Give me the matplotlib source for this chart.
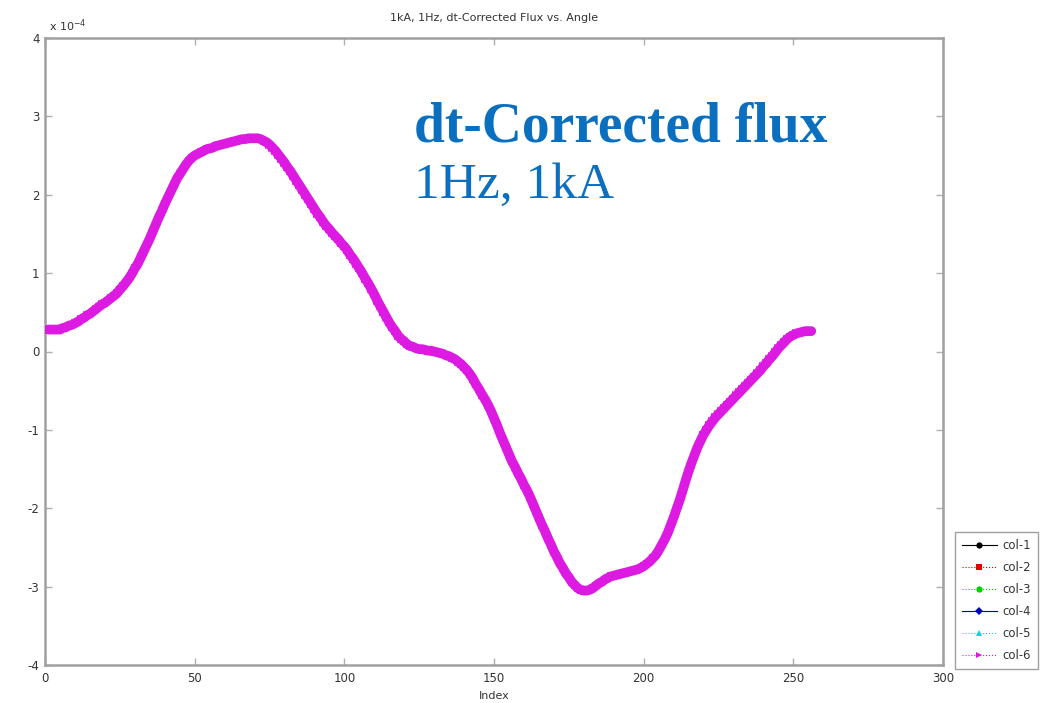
import numpy as np
import matplotlib
matplotlib.use("Agg")
import matplotlib.pyplot as plt
from matplotlib.ticker import ScalarFormatter

plt.rcParams["axes.unicode_minus"] = False

# dt-corrected flux (units of 1e-4), sample index 1..256
flux = [
    0.28, 0.28, 0.28, 0.28, 0.28, 0.30, 0.31, 0.33, 0.34, 0.36, 0.38, 0.41, 0.43, 0.46, 0.48, 0.51,
    0.54, 0.57, 0.60, 0.62, 0.65, 0.68, 0.71, 0.74, 0.79, 0.83, 0.88, 0.93, 0.99, 1.06, 1.12, 1.20,
    1.28, 1.36, 1.44, 1.53, 1.62, 1.71, 1.79, 1.88, 1.96, 2.04, 2.12, 2.20, 2.26, 2.32, 2.38, 2.43,
    2.47, 2.50, 2.52, 2.54, 2.56, 2.58, 2.59, 2.60, 2.62, 2.63, 2.64, 2.65, 2.66, 2.67, 2.68, 2.69,
    2.70, 2.71, 2.71, 2.72, 2.72, 2.72, 2.72, 2.71, 2.69, 2.67, 2.64, 2.60, 2.56, 2.51, 2.46, 2.41,
    2.35, 2.30, 2.24, 2.18, 2.12, 2.06, 2.00, 1.94, 1.88, 1.82, 1.76, 1.71, 1.65, 1.60, 1.56, 1.51,
    1.47, 1.43, 1.38, 1.34, 1.29, 1.23, 1.18, 1.12, 1.06, 1.00, 0.93, 0.87, 0.80, 0.73, 0.65, 0.58,
    0.51, 0.44, 0.37, 0.31, 0.26, 0.20, 0.16, 0.13, 0.09, 0.07, 0.06, 0.04, 0.03, 0.03, 0.02, 0.01,
    0.01, 0.00, -0.01, -0.02, -0.03, -0.05, -0.06, -0.08, -0.10, -0.13, -0.16, -0.20, -0.24, -0.29, -0.35, -0.42,
    -0.48, -0.55, -0.61, -0.68, -0.76, -0.85, -0.94, -1.04, -1.13, -1.22, -1.31, -1.40, -1.47, -1.55, -1.62, -1.70,
    -1.77, -1.85, -1.94, -2.03, -2.12, -2.21, -2.29, -2.38, -2.46, -2.55, -2.62, -2.70, -2.76, -2.83, -2.88, -2.94,
    -2.98, -3.02, -3.04, -3.05, -3.05, -3.04, -3.02, -2.99, -2.96, -2.94, -2.91, -2.89, -2.87, -2.86, -2.85, -2.84,
    -2.83, -2.82, -2.81, -2.80, -2.79, -2.78, -2.76, -2.74, -2.71, -2.68, -2.64, -2.60, -2.54, -2.47, -2.40, -2.32,
    -2.22, -2.12, -2.01, -1.90, -1.78, -1.65, -1.53, -1.42, -1.32, -1.22, -1.14, -1.06, -1.00, -0.94, -0.89, -0.84,
    -0.80, -0.76, -0.72, -0.68, -0.64, -0.60, -0.56, -0.52, -0.48, -0.44, -0.40, -0.36, -0.32, -0.28, -0.24, -0.19,
    -0.15, -0.10, -0.06, -0.01, 0.04, 0.08, 0.12, 0.16, 0.19, 0.21, 0.23, 0.24, 0.25, 0.26, 0.26, 0.26,
]
flux_scale = 1e-4

series_names = ["col-1", "col-2", "col-3", "col-4", "col-5", "col-6"]
series_colors = ["#000000", "#e00000", "#00d000", "#0000c0", "#00d8e8", "#dc1ae2"]
series_markers = ["o", "s", "o", "D", "^", ">"]
series_styles = ["-", ":", ":", "-", ":", ":"]

x_ticks = [0, 50, 100, 150, 200, 250, 300]
y_ticks = [-4, -3, -2, -1, 0, 1, 2, 3, 4]

index = np.arange(1, len(flux) + 1)
values = np.array(flux) * flux_scale

fig = plt.figure(figsize=(10.49, 7.03), dpi=100)
ax = fig.add_axes([0.0429, 0.054, 0.856, 0.892])

# every column carries the same trace; the last one is drawn on top and hides the rest
for k, (name, col, mk) in enumerate(zip(series_names, series_colors, series_markers)):
    last = k == len(series_names) - 1
    ax.plot(index, values, linestyle="-", color=col, marker=mk,
            markersize=6 if last else 3, markeredgewidth=0,
            linewidth=7 if last else 0.5, solid_capstyle="round",
            label=name, zorder=3 + k)

ax.set_xlim(0, 300)
ax.set_ylim(-4e-4, 4e-4)
ax.set_xticks(x_ticks)
ax.set_yticks([t * flux_scale for t in y_ticks])
fmt = ScalarFormatter(useMathText=False)
fmt.set_powerlimits((-3, 3))
ax.yaxis.set_major_formatter(fmt)
ax.yaxis.get_offset_text().set_visible(False)

for s in ax.spines.values():
    s.set_color("#a0a0a0")
    s.set_linewidth(1.8)
ax.tick_params(direction="in", length=5, width=1.0, color="#b0b0b0",
               labelsize=8.5, labelcolor="#333333", top=True, right=True)
ax.tick_params(axis="x", pad=5)
ax.tick_params(axis="y", pad=4)

ax.text(0.004, 1.006, r"x 10$^{-4}$", transform=ax.transAxes, fontsize=8,
        color="#333333", ha="left", va="bottom")
ax.set_title("1kA, 1Hz, dt-Corrected Flux vs. Angle", fontsize=8, color="#333333", pad=12)
ax.set_xlabel("Index", fontsize=8, color="#333333", labelpad=4)

leg_handles = []
for col, mk, ls in zip(series_colors, series_markers, series_styles):
    leg_handles.append(plt.Line2D([], [], color=col, marker=mk, markersize=4.5,
                                  markeredgewidth=0, linewidth=0.8, linestyle=ls))
leg = fig.legend(leg_handles, series_names, loc="lower left",
                 bbox_to_anchor=(0.910, 0.048), fontsize=8.4, frameon=True,
                 fancybox=False, edgecolor="#888888", handlelength=3.0,
                 handletextpad=0.5, labelspacing=0.78, borderpad=0.6,
                 borderaxespad=0.0)
leg.get_frame().set_linewidth(1.0)
for t in leg.get_texts():
    t.set_color("#333333")

blue = "#0b6fbf"
fig.text(0.395, 0.7994, "dt-Corrected flux", fontsize=40, fontweight="bold",
         family="Liberation Serif", color=blue, ha="left", va="baseline")
fig.text(0.395, 0.7183, "1Hz, 1kA", fontsize=37, family="Liberation Serif",
         color=blue, ha="left", va="baseline")

fig.savefig("out.png", dpi=100)
